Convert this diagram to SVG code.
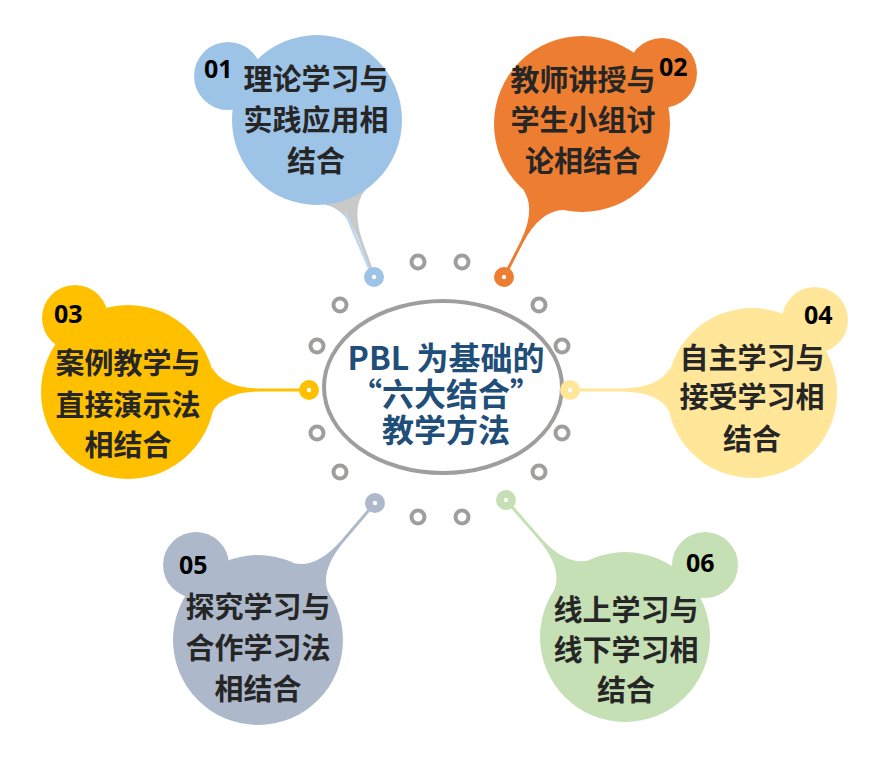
<svg xmlns="http://www.w3.org/2000/svg" width="883" height="760" viewBox="0 0 883 760">
<style>
.t{font-family:"Noto Sans CJK SC","Noto Sans",sans-serif;font-weight:bold;font-size:29px;fill:#262626;text-anchor:middle}
.n{font-family:"Noto Sans","Open Sans",sans-serif;font-weight:bold;font-size:25px;fill:#000}
.c{font-family:"Noto Sans CJK SC","Noto Sans",sans-serif;font-weight:bold;font-size:32px;fill:#1f4e79;text-anchor:middle}
.ring{fill:none;stroke:#a09d9d;stroke-width:4}
.hole{fill:#fff}
</style>
<rect width="883" height="760" fill="#fff"/>
<g id="connectors">
<path d="M365.8,189.6 Q350.6,206.7 362.7,241.7 L375.5,276.5 L372.5,277.5 L359.9,242.7 Q346.8,208.1 324.4,204.7 Z" fill="#c9c9c9"/>
<line x1="345" y1="212" x2="372" y2="275" stroke="#bdd7ee" stroke-width="2.5"/>
<path d="M563.7,210.1 Q540.2,210.4 522.9,243.2 L505.3,277.7 L502.7,276.3 L520.3,241.8 Q536.6,208.6 523.1,189.4 Z" fill="#ed7d31"/>
<path d="M212,367.5 Q223,388 260,388.5 L309,388.5 L309,391.5 L260,391.5 Q223,392 212,412.5 Z" fill="#ffc000"/>
<path d="M669.9,368 Q659,388 622,388.5 L570,388.5 L570,391.5 L622,391.5 Q659,392 669.9,412 Z" fill="#ffe699"/>
<path d="M294.6,563.3 Q316.9,568.0 341.3,540.2 L373.9,502.0 L376.1,504.0 L343.5,542.2 Q319.9,570.6 328.0,591.9 Z" fill="#adb9ca"/>
<path d="M554.5,589.5 Q562.5,568.1 538.6,539.8 L504.9,501.0 L507.1,499.0 L540.8,537.8 Q565.5,565.5 587.7,560.6 Z" fill="#c5e0b4"/>
</g>
<g id="rings">
<circle class="ring" cx="418" cy="262" r="6.5"/>
<circle class="ring" cx="462" cy="262" r="6.5"/>
<circle class="ring" cx="340" cy="305" r="6.5"/>
<circle class="ring" cx="539" cy="305" r="6.5"/>
<circle class="ring" cx="317" cy="346" r="6.5"/>
<circle class="ring" cx="562" cy="346" r="6.5"/>
<circle class="ring" cx="317" cy="433" r="6.5"/>
<circle class="ring" cx="562" cy="433" r="6.5"/>
<circle class="ring" cx="340" cy="472" r="6.5"/>
<circle class="ring" cx="539" cy="472" r="6.5"/>
<circle class="ring" cx="418" cy="517" r="6.5"/>
<circle class="ring" cx="462" cy="517" r="6.5"/>
</g>
<g id="center">
<ellipse cx="443" cy="387" rx="119" ry="86" fill="#fff" stroke="#a09d9d" stroke-width="4"/>
<text class="c" x="446" y="370">PBL 为基础的</text>
<text class="c" x="446" y="406">“六大结合”</text>
<text class="c" x="446" y="442">教学方法</text>
</g>
<g id="node01">
<circle cx="228" cy="76" r="34" fill="#9dc3e6"/>
<circle cx="317" cy="120" r="85" fill="#9dc3e6"/>
<circle cx="374" cy="277" r="10" fill="#9dc3e6"/>
<circle class="hole" cx="374" cy="277" r="2.2"/>
<text class="n" x="204" y="78">01</text>
<text class="t" x="316" y="90">理论学习与</text>
<text class="t" x="316" y="131">实践应用相</text>
<text class="t" x="316" y="172">结合</text>
</g>
<g id="node02">
<circle cx="662" cy="73" r="35" fill="#ed7d31"/>
<circle cx="582" cy="124" r="88" fill="#ed7d31"/>
<circle cx="504" cy="277" r="10" fill="#ed7d31"/>
<circle class="hole" cx="504" cy="277" r="2.2"/>
<text class="n" x="659" y="76">02</text>
<text class="t" x="583" y="91">教师讲授与</text>
<text class="t" x="583" y="131">学生小组讨</text>
<text class="t" x="583" y="172">论相结合</text>
</g>
<g id="node03">
<circle cx="75" cy="318" r="33" fill="#ffc000"/>
<circle cx="128" cy="392" r="87" fill="#ffc000"/>
<circle cx="309" cy="390" r="10" fill="#ffc000"/>
<circle class="hole" cx="309" cy="390" r="2.2"/>
<text class="n" x="54" y="323">03</text>
<text class="t" x="128" y="374">案例教学与</text>
<text class="t" x="128" y="416">直接演示法</text>
<text class="t" x="128" y="456">相结合</text>
</g>
<g id="node04">
<circle cx="815" cy="320" r="33" fill="#ffe699"/>
<circle cx="752" cy="393" r="85" fill="#ffe699"/>
<circle cx="570" cy="390" r="10" fill="#ffe699"/>
<circle class="hole" cx="570" cy="390" r="2.2"/>
<text class="n" x="804" y="324">04</text>
<text class="t" x="752" y="369">自主学习与</text>
<text class="t" x="752" y="408">接受学习相</text>
<text class="t" x="752" y="450">结合</text>
</g>
<g id="node05">
<circle cx="196" cy="565" r="33" fill="#adb9ca"/>
<circle cx="258" cy="640" r="85" fill="#adb9ca"/>
<circle cx="375" cy="503" r="10" fill="#adb9ca"/>
<circle class="hole" cx="375" cy="503" r="2.2"/>
<text class="n" x="179" y="574">05</text>
<text class="t" x="258" y="618">探究学习与</text>
<text class="t" x="258" y="659">合作学习法</text>
<text class="t" x="258" y="700">相结合</text>
</g>
<g id="node06">
<circle cx="705" cy="565" r="33" fill="#c5e0b4"/>
<circle cx="625" cy="637" r="85" fill="#c5e0b4"/>
<circle cx="506" cy="500" r="10" fill="#c5e0b4"/>
<circle class="hole" cx="506" cy="500" r="2.2"/>
<text class="n" x="686" y="572">06</text>
<text class="t" x="626" y="621">线上学习与</text>
<text class="t" x="626" y="661">线下学习相</text>
<text class="t" x="626" y="701">结合</text>
</g>
</svg>
